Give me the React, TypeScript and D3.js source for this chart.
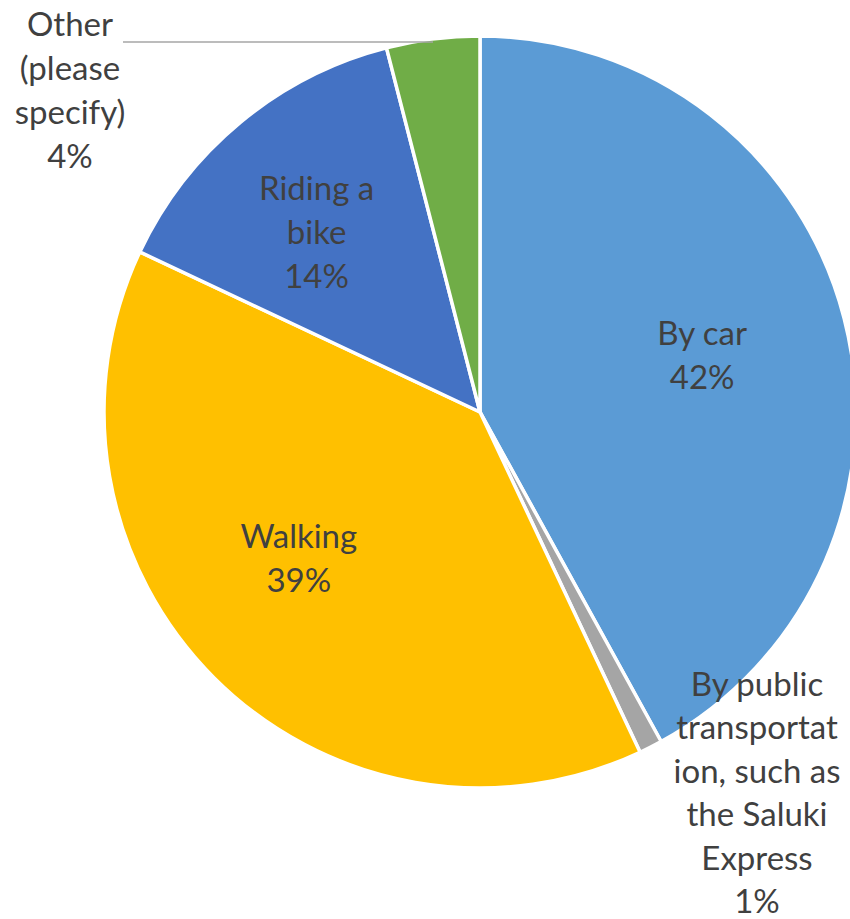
import { useEffect, useRef } from 'react';
import * as d3 from 'd3';

const categories = ['By car', 'By public transportation, such as the Saluki Express', 'Walking', 'Riding a bike', 'Other (please specify)'];
const values = [42, 1, 39, 14, 4];
const colors = ['#5B9BD5', '#A5A5A5', '#FFC000', '#4472C4', '#70AD47'];
// label lines as Excel wraps them
const labelLines = [
  ['By car', '42%'],
  ['By public', 'transportat', 'ion, such as', 'the Saluki', 'Express', '1%'],
  ['Walking', '39%'],
  ['Riding a', 'bike', '14%'],
  ['Other', '(please', 'specify)', '4%'],
];

const width = 850;
const height = 919;

export default function App() {
  const svgRef = useRef<SVGSVGElement>(null);

  useEffect(() => {
    if (!svgRef.current) return;
    const svg = d3.select(svgRef.current);
    svg.selectAll('*').remove();

    const cx = 480;
    const cy = 412;
    const r = 376;

    const data = categories.map((c, i) => ({ name: c, value: values[i], color: colors[i], lines: labelLines[i] }));

    const pie = d3.pie<typeof data[0]>().value(d => d.value).sort(null);
    const arcs = pie(data);
    const arc = d3.arc<d3.PieArcDatum<typeof data[0]>>().innerRadius(0).outerRadius(r);

    const g = svg.append('g').attr('transform', `translate(${cx}, ${cy})`);

    g.selectAll('path')
      .data(arcs)
      .enter()
      .append('path')
      .attr('d', arc)
      .attr('fill', d => d.data.color)
      .attr('stroke', '#fff')
      .attr('stroke-width', 3.5)
      .attr('stroke-linejoin', 'round');

    const mid = (d: d3.PieArcDatum<typeof data[0]>) => (d.startAngle + d.endAngle) / 2;

    // label anchor points (centre of text block)
    const labelR = [0.61, 0, 0.62, 0.646, 0];
    const labelOff = [0, 0, 0.105, -0.047, 0];
    const anchors = arcs.map((d, i) => {
      if (i === 1) return [757 - cx, 793 - cy];
      if (i === 4) return [70 - cx, 90 - cy];
      const a = mid(d) + labelOff[i];
      const lr = r * labelR[i];
      return [lr * Math.sin(a), -lr * Math.cos(a)];
    });

    // leader line for Other
    const other = arcs[4];
    const oa = mid(other);
    const ex = (r - 1) * Math.sin(oa);
    const ey = -(r - 1) * Math.cos(oa);
    g.append('line')
      .attr('x1', ex)
      .attr('y1', ey + 2)
      .attr('x2', 123 - cx)
      .attr('y2', 42 - cy)
      .attr('stroke', '#A6A6A6')
      .attr('stroke-width', 1.5);

    arcs.forEach((d, i) => {
      const [x, y] = anchors[i];
      const lines = d.data.lines;
      const lineH = i === 1 ? 43.4 : 44;
      const t = g.append('text')
        .attr('text-anchor', 'middle')
        .attr('font-family', 'Lato, "Open Sans", sans-serif')
        .attr('font-size', 33)
        .attr('fill', '#404040');
      lines.forEach((ln, k) => {
        t.append('tspan')
          .attr('x', x)
          .attr('y', y + (k - (lines.length - 1) / 2) * lineH)
          .attr('dy', '0.35em')
          .text(ln);
      });
    });
  }, []);

  return (
    <div style={{ position: 'absolute', left: 0, top: 0, width, height, background: '#fff', overflow: 'hidden' }}>
      <svg ref={svgRef} width={width} height={height}></svg>
    </div>
  );
}
